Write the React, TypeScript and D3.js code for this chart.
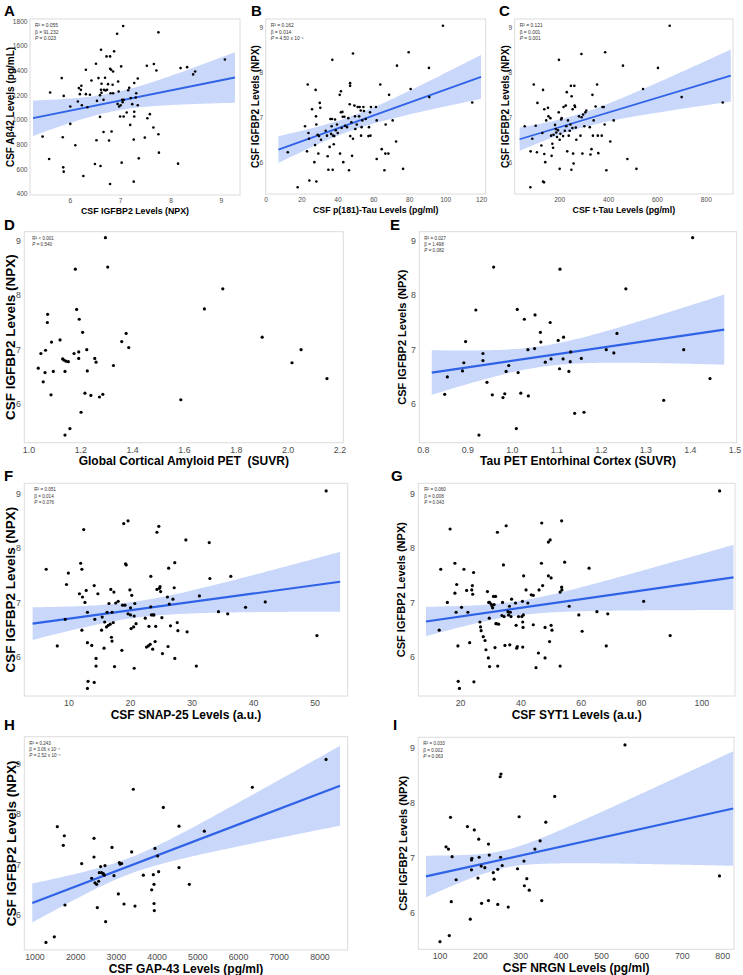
import * as d3 from "d3";

type Pt = [number, number];
// [xStart, yStart, xEnd, yEnd, halfWidthStart, halfWidthMin, halfWidthEnd]
type Fit = [number, number, number, number, number, number, number];

// ---- values ----
const pointsA: Pt[] = [
  [5.45, 866], [5.58, 685], [5.6, 1224], [5.83, 1340], [5.85, 861], [5.86, 617], [5.87, 582], [5.87, 1196],
  [6.0, 1110], [6.0, 969], [6.1, 796], [6.15, 1150], [6.17, 1259], [6.19, 1210], [6.21, 1245], [6.22, 1278],
  [6.23, 1120], [6.26, 547], [6.31, 1210], [6.31, 1408], [6.34, 1104], [6.39, 1205], [6.42, 1321], [6.49, 644],
  [6.51, 1457], [6.52, 836], [6.53, 1156], [6.56, 1340], [6.59, 1202], [6.59, 1026], [6.6, 628], [6.61, 1245],
  [6.61, 1570], [6.62, 1294], [6.62, 1221], [6.66, 904], [6.66, 1164], [6.67, 1245], [6.69, 1343], [6.7, 1240],
  [6.72, 1516], [6.73, 1245], [6.75, 1291], [6.77, 834], [6.79, 1416], [6.79, 1516], [6.8, 1218], [6.81, 1408],
  [6.82, 907], [6.84, 1286], [6.85, 1394], [6.87, 1557], [6.79, 482], [6.85, 1218], [6.93, 1700], [6.94, 1131],
  [6.95, 1313], [6.96, 1232], [6.97, 1110], [6.99, 1029], [7.0, 1120], [7.01, 1435], [7.02, 655], [7.03, 1164],
  [7.04, 1145], [7.05, 1762], [7.06, 1029], [7.06, 1164], [7.12, 1061], [7.15, 1242], [7.17, 1261], [7.19, 961],
  [7.2, 1178], [7.23, 1129], [7.26, 501], [7.26, 842], [7.27, 1067], [7.27, 1029], [7.27, 1300], [7.3, 1183],
  [7.31, 1218], [7.34, 1337], [7.34, 1120], [7.36, 690], [7.48, 858], [7.52, 1440], [7.53, 1015], [7.58, 1048],
  [7.65, 940], [7.66, 1454], [7.71, 1402], [7.75, 885], [7.75, 1711], [7.76, 736], [8.14, 647], [8.19, 1421],
  [8.32, 1429], [8.44, 1370], [8.48, 1394], [9.07, 1491],
];

const pointsB: Pt[] = [
  [12.1, 6.23], [17.6, 5.45], [21.7, 6.81], [22.8, 6.25], [23.2, 7.74], [23.6, 6.66], [23.9, 6.53], [24.1, 5.6],
  [25.6, 7.19], [26.9, 6.01], [27.3, 6.39], [27.6, 7.62], [27.8, 7.03], [28.0, 6.85], [28.0, 5.58], [28.7, 6.62],
  [29.1, 6.2], [29.5, 6.59], [29.9, 7.33], [30.2, 7.22], [30.6, 6.51], [33.2, 6.71], [33.9, 6.6], [34.3, 6.14],
  [34.7, 5.84], [35.4, 6.35], [35.8, 6.97], [36.2, 6.64], [36.5, 6.81], [36.7, 6.97], [36.9, 8.29], [37.1, 5.84],
  [37.3, 6.6], [37.7, 6.41], [38.0, 6.59], [38.4, 6.96], [38.8, 6.72], [39.5, 6.85], [39.9, 6.66], [41.0, 7.51],
  [41.2, 6.2], [41.7, 7.59], [41.7, 7.12], [42.1, 6.77], [42.5, 7.13], [42.7, 7.02], [43.0, 6.01], [43.6, 7.02],
  [44.0, 6.82], [45.1, 6.79], [45.8, 6.99], [46.2, 5.83], [46.6, 7.3], [46.8, 7.71], [46.8, 7.77], [46.9, 6.59],
  [47.5, 6.9], [47.9, 6.15], [48.4, 6.53], [48.4, 8.43], [49.2, 7.27], [49.5, 7.03], [49.7, 6.75], [50.5, 6.85],
  [51.0, 7.24], [51.8, 7.03], [52.1, 7.24], [52.7, 7.16], [52.9, 6.6], [53.2, 6.79], [53.6, 6.94], [54.2, 7.24],
  [54.5, 7.15], [55.5, 6.97], [57.0, 6.59], [57.3, 6.79], [57.9, 7.12], [58.1, 6.6], [58.4, 7.24], [61.2, 7.24],
  [61.6, 6.94], [61.6, 6.08], [63.6, 7.74], [64.4, 6.3], [65.9, 5.83], [66.4, 6.2], [66.6, 6.85], [68.1, 6.2],
  [68.5, 7.51], [70.5, 6.94], [72.4, 6.47], [72.9, 8.16], [76.3, 5.86], [79.4, 8.46], [80.5, 7.64], [90.7, 8.11],
  [90.9, 7.46], [98.5, 9.05], [114.8, 7.34],
];

const pointsC: Pt[] = [
  [57, 6.81], [80, 5.45], [81, 6.25], [88, 6.53], [94, 7.74], [102, 6.82], [107, 6.23], [109, 7.33],
  [125, 6.38], [129, 6.66], [132, 7.62], [132, 5.58], [136, 5.56], [137, 6.19], [137, 7.19], [141, 6.01],
  [145, 6.94], [152, 7.22], [154, 7.03], [162, 6.99], [165, 6.6], [167, 6.15], [170, 6.42], [173, 6.33],
  [175, 6.62], [181, 6.84], [184, 6.75], [186, 6.67], [189, 6.57], [193, 6.72], [196, 7.12], [197, 8.29],
  [200, 5.86], [200, 6.51], [203, 6.64], [206, 6.96], [208, 6.99], [214, 6.59], [216, 7.24], [221, 6.71],
  [225, 7.27], [227, 6.81], [229, 7.57], [231, 6.25], [234, 6.94], [237, 6.6], [241, 6.71], [244, 6.85],
  [246, 7.71], [248, 5.84], [249, 7.48], [252, 6.77], [253, 7.19], [255, 6.2], [257, 5.98], [260, 7.71],
  [261, 7.27], [263, 7.24], [266, 6.78], [268, 6.51], [279, 7.03], [285, 6.6], [289, 8.42], [290, 7.01],
  [293, 6.2], [296, 7.07], [301, 6.81], [305, 7.12], [309, 7.16], [323, 6.79], [326, 6.18], [330, 6.3],
  [334, 7.51], [336, 6.6], [339, 6.94], [347, 7.25], [353, 7.74], [356, 6.6], [358, 6.21], [372, 6.6],
  [375, 7.24], [380, 7.24], [384, 6.85], [386, 8.46], [391, 5.83], [407, 6.47], [421, 6.94], [459, 8.16],
  [477, 6.08], [514, 5.86], [541, 7.64], [602, 8.11], [650, 9.05], [699, 7.46], [867, 7.34],
];

const pointsD: Pt[] = [
  [1.036, 6.66], [1.046, 6.93], [1.055, 6.41], [1.062, 6.58], [1.064, 6.99], [1.071, 7.5], [1.072, 7.65],
  [1.085, 6.17], [1.087, 7.14], [1.094, 6.6], [1.12, 7.18], [1.13, 6.83], [1.135, 6.81], [1.143, 6.79],
  [1.152, 6.78], [1.139, 6.6], [1.139, 5.43], [1.158, 5.55], [1.174, 6.93], [1.179, 8.48], [1.184, 7.74],
  [1.192, 6.96], [1.192, 6.84], [1.194, 7.56], [1.201, 5.85], [1.207, 7.32], [1.216, 6.2], [1.223, 7.0],
  [1.225, 6.61], [1.239, 6.16], [1.254, 6.84], [1.259, 6.77], [1.272, 6.13], [1.285, 6.18], [1.295, 9.06],
  [1.304, 8.52], [1.326, 6.71], [1.358, 7.15], [1.375, 7.3], [1.385, 7.04], [1.586, 6.08], [1.677, 7.75],
  [1.748, 8.12], [1.9, 7.23], [2.015, 6.76], [2.05, 7.0], [2.15, 6.47],
];

const pointsE: Pt[] = [
  [0.848, 6.18], [0.854, 6.5], [0.888, 6.61], [0.891, 6.76], [0.895, 7.15], [0.918, 7.73], [0.925, 5.43],
  [0.934, 6.8], [0.934, 6.93], [0.943, 6.4], [0.955, 6.17], [0.958, 8.52], [0.979, 6.12], [0.983, 6.19],
  [0.986, 6.6], [0.992, 6.71], [1.009, 5.55], [1.011, 7.74], [1.013, 6.58], [1.019, 6.2], [1.027, 7.56],
  [1.035, 7.0], [1.036, 6.15], [1.05, 7.02], [1.051, 7.64], [1.063, 7.32], [1.064, 7.14], [1.074, 6.77],
  [1.085, 7.5], [1.087, 6.83], [1.103, 7.17], [1.106, 6.65], [1.107, 8.48], [1.115, 7.23], [1.114, 6.83],
  [1.127, 6.6], [1.13, 6.78], [1.131, 6.96], [1.14, 5.83], [1.155, 6.84], [1.161, 5.85], [1.211, 7.0],
  [1.228, 6.94], [1.235, 7.3], [1.255, 8.12], [1.34, 6.07], [1.385, 7.0], [1.405, 9.06], [1.444, 6.47],
];

const pointsF: Pt[] = [
  [6.3, 7.61], [8.1, 6.2], [9.6, 7.33], [9.9, 7.54], [9.4, 6.69], [11.7, 7.16], [11.9, 7.72], [12.1, 7.61],
  [12.2, 7.1], [12.1, 6.49], [12.4, 8.34], [12.6, 7.0], [12.8, 7.22], [13.0, 6.82], [13.0, 6.26], [13.1, 5.55],
  [13.0, 5.42], [13.7, 6.21], [14.1, 7.31], [14.1, 5.53], [14.2, 6.69], [14.4, 5.97], [14.4, 5.83], [14.7, 7.16],
  [15.3, 6.49], [15.4, 6.73], [15.7, 6.16], [15.8, 6.64], [16.1, 6.55], [16.2, 6.82], [16.4, 6.58], [16.5, 6.98],
  [16.7, 6.6], [16.8, 7.24], [16.9, 6.36], [17.0, 6.29], [17.0, 6.82], [17.2, 6.63], [17.3, 7.19], [17.4, 5.82],
  [17.6, 6.99], [18.0, 7.02], [18.6, 6.12], [18.7, 6.95], [18.9, 8.45], [19.1, 6.95], [19.2, 7.71], [19.3, 7.69],
  [19.6, 8.5], [19.6, 6.79], [19.9, 7.23], [20.0, 6.9], [20.0, 6.77], [20.1, 6.52], [20.2, 7.13], [20.5, 6.55],
  [20.6, 6.75], [20.6, 5.79], [20.7, 6.98], [20.9, 6.61], [22.4, 6.71], [22.6, 6.18], [22.9, 6.2], [23.0, 6.56],
  [23.2, 6.23], [23.3, 7.48], [23.3, 6.92], [23.4, 6.77], [23.6, 6.14], [23.7, 6.77], [23.8, 6.77], [24.0, 6.28],
  [24.1, 6.56], [24.3, 8.29], [24.3, 7.24], [24.6, 8.4], [24.7, 7.26], [24.8, 7.29], [24.9, 7.2], [25.1, 6.72],
  [25.2, 6.06], [26.0, 7.1], [26.1, 6.19], [26.2, 7.63], [26.3, 6.97], [26.5, 6.57], [26.9, 7.06], [27.1, 7.27],
  [27.2, 7.73], [27.2, 5.97], [27.6, 6.63], [27.7, 6.48], [29.0, 8.15], [29.2, 6.46], [30.7, 5.83], [31.2, 7.12],
  [32.8, 8.1], [32.9, 7.44], [34.3, 6.83], [35.8, 6.79], [36.3, 7.48], [38.7, 6.91], [41.9, 7.01], [50.3, 6.39],
  [51.8, 9.05],
];

const pointsG: Pt[] = [
  [12.9, 6.49], [13.4, 7.61], [15.6, 7.0], [16.5, 8.35], [18.1, 7.17], [18.5, 6.82], [18.1, 7.72], [18.7, 7.33],
  [19.1, 6.2], [19.2, 5.55], [19.6, 5.42], [20.3, 6.91], [21.1, 7.61], [22.0, 7.22], [22.4, 6.82], [23.0, 6.26],
  [23.7, 7.23], [23.9, 7.31], [24.0, 7.15], [24.3, 7.55], [24.4, 5.54], [26.4, 6.64], [26.6, 6.55], [26.8, 6.48],
  [27.5, 6.37], [28.1, 6.3], [28.4, 6.13], [28.9, 7.2], [29.2, 5.98], [29.3, 7.0], [29.5, 6.71], [29.6, 5.82],
  [29.6, 7.0], [30.1, 6.97], [30.4, 6.94], [30.6, 6.9], [30.9, 7.11], [31.1, 6.96], [31.4, 6.17], [31.6, 7.11],
  [31.7, 6.61], [31.9, 6.61], [32.2, 8.29], [32.3, 5.83], [32.6, 6.6], [33.7, 6.76], [33.9, 7.0], [34.2, 7.69],
  [34.4, 6.74], [34.7, 6.21], [35.1, 8.41], [35.7, 6.83], [35.9, 6.77], [36.2, 6.93], [36.3, 6.22], [36.5, 6.82],
  [36.7, 6.74], [36.9, 7.06], [38.2, 6.99], [38.4, 6.58], [38.6, 6.16], [38.8, 6.19], [39.2, 6.74], [40.3, 6.74],
  [40.5, 7.02], [40.6, 6.64], [40.7, 6.54], [40.8, 6.77], [40.6, 6.18], [40.9, 7.49], [41.7, 7.23], [42.3, 6.99],
  [43.4, 7.14], [44.1, 7.13], [44.1, 6.59], [45.0, 5.8], [45.8, 6.07], [46.0, 7.23], [46.8, 7.72], [46.9, 8.46],
  [47.2, 7.31], [48.0, 6.54], [48.0, 5.98], [49.1, 7.49], [49.1, 8.11], [49.5, 6.28], [49.7, 8.15], [50.0, 7.45],
  [50.0, 6.58], [50.3, 6.49], [53.0, 7.19], [53.0, 5.83], [53.5, 8.5], [53.5, 7.28], [53.6, 7.23], [54.5, 7.74],
  [56.0, 6.93], [59.2, 6.77], [60.3, 6.47], [62.6, 7.63], [65.2, 6.83], [68.3, 6.2], [68.8, 6.79], [80.7, 7.02],
  [89.5, 6.39], [105.9, 9.05],
];

const pointsH: Pt[] = [
  [1270, 5.46], [1475, 5.57], [1549, 7.75], [1696, 7.38], [1721, 7.57], [1737, 6.2], [2147, 7.02], [2392, 6.73],
  [2450, 7.52], [2450, 7.15], [2474, 6.64], [2515, 6.61], [2532, 6.15], [2564, 6.67], [2580, 6.84], [2613, 6.96],
  [2638, 6.84], [2679, 6.82], [2720, 6.98], [2736, 5.87], [2703, 6.79], [2892, 7.34], [2941, 6.78], [3048, 6.42],
  [3072, 7.04], [3089, 7.01], [3129, 7.02], [3187, 6.22], [3375, 7.25], [3416, 8.49], [3457, 6.18], [3662, 6.79],
  [3867, 6.5], [3907, 6.8], [3924, 6.61], [3924, 6.23], [3932, 6.09], [3948, 7.32], [4014, 7.17], [4038, 6.86],
  [4153, 8.13], [4538, 7.76], [4538, 6.94], [4792, 6.61], [5161, 7.66], [6340, 8.53], [8150, 9.08],
];

const pointsI: Pt[] = [
  [100, 5.47], [115, 7.2], [121, 7.16], [123, 5.58], [126, 7.74], [128, 6.2], [130, 7.02], [140, 6.6],
  [168, 7.57], [175, 5.88], [178, 6.96], [178, 6.78], [179, 6.99], [185, 7.51], [194, 6.63], [196, 7.34],
  [197, 7.01], [202, 6.85], [203, 6.17], [211, 6.82], [220, 7.25], [220, 6.22], [222, 7.05], [232, 6.73],
  [234, 6.61], [243, 6.79], [243, 6.15], [249, 8.48], [250, 7.01], [251, 8.53], [254, 6.86], [269, 6.1],
  [292, 6.8], [296, 7.75], [308, 6.94], [309, 6.49], [315, 6.62], [321, 6.41], [335, 7.16], [348, 7.31],
  [352, 6.22], [362, 7.65], [384, 8.12], [558, 9.06], [792, 6.67],
];

// regression lines with their confidence bands
const fitA: Fit = [5.26, 1015, 9.27, 1345, 143, 75, 205];
const fitB: Fit = [6.9, 6.29, 119.7, 7.91, 0.3, 0.16, 0.49];
const fitC: Fit = [36, 6.52, 900, 7.94, 0.26, 0.16, 0.58];
const fitE: Fit = [0.819, 6.58, 1.476, 7.37, 0.41, 0.19, 0.645];
const fitF: Fit = [4.09, 6.61, 54.07, 7.38, 0.3, 0.15, 0.55];
const fitG: Fit = [8.5, 6.65, 110.5, 7.46, 0.27, 0.13, 0.6];
const fitH: Fit = [934, 6.24, 8494, 8.56, 0.385, 0.16, 0.79];
const fitI: Fit = [65.3, 6.66, 826, 7.9, 0.38, 0.16, 1.045];

// statistics printed in each panel
const statsA = [["R²", " = 0.055"], ["β", " = 91.232"], ["P", " = 0.023"]];
const statsB = [["R²", " = 0.162"], ["β", " = 0.014"], ["P", " = 4.50 x 10⁻⁵"]];
const statsC = [["R²", " = 0.121"], ["β", " = 0.001"], ["P", " = 0.001"]];
const statsD = [["R²", " < 0.001"], ["P", " = 0.540"]];
const statsE = [["R²", " = 0.027"], ["β", " = 1.498"], ["P", " = 0.082"]];
const statsF = [["R²", " = 0.051"], ["β", " = 0.014"], ["P", " = 0.076"]];
const statsG = [["R²", " = 0.060"], ["β", " = 0.008"], ["P", " = 0.043"]];
const statsH = [["R²", " = 0.243"], ["β", " = 3.06 x 10⁻⁴"], ["P", " = 2.52 x 10⁻⁴"]];
const statsI = [["R²", " = 0.033"], ["β", " = 0.002"], ["P", " = 0.063"]];

// tick values
const ticksIgf = [6, 7, 8, 9];
const ticksAb42 = [400, 600, 800, 1000, 1200, 1400, 1600, 1800];
const ticksPtau = [0, 20, 40, 60, 80, 100, 120];
const ticksTtau = [200, 400, 600, 800];
const ticksAmyPet = [1.0, 1.2, 1.4, 1.6, 1.8, 2.0, 2.2];
const ticksTauPet = [0.8, 0.9, 1.0, 1.1, 1.2, 1.3, 1.4, 1.5];
const ticksSnap = [10, 20, 30, 40, 50];
const ticksSyt = [20, 40, 60, 80, 100];
const ticksGap = [1000, 2000, 3000, 4000, 5000, 6000, 7000, 8000];
const ticksNrgn = [100, 200, 300, 400, 500, 600, 700, 800];

const yTitleIgf = "CSF IGFBP2 Levels (NPX)";

// ---- layout ----
interface PanelCfg {
  letter: string;
  letterPos: [number, number];
  box: [number, number, number, number];
  xDomain: [number, number];
  yDomain: [number, number];
  xTicks: number[];
  yTicks: number[];
  xFmt?: (v: number) => string;
  xTitle: string;
  yTitle: string;
  yTitleX: number;
  yTitleSize: number;
  points: Pt[];
  fit?: Fit;
  stats: string[][];
  annotDx: number;
  small: boolean;
}

const f1 = d3.format(".1f");

const panels: PanelCfg[] = [
  {
    letter: "A", letterPos: [4, 16], box: [30, 19, 240, 195], xDomain: [5.2, 9.37], yDomain: [393, 1819],
    xTicks: [6, 7, 8, 9], yTicks: ticksAb42, xTitle: "CSF IGFBP2 Levels (NPX)", yTitle: "CSF Aβ42 Levels (pg/mL)",
    yTitleX: 10, yTitleSize: 10, points: pointsA, fit: fitA, stats: statsA, annotDx: 5, small: true,
  },
  {
    letter: "B", letterPos: [251, 16], box: [265.7, 19, 485.7, 194], xDomain: [-0.2, 122.3], yDomain: [5.3, 9.2],
    xTicks: ticksPtau, yTicks: ticksIgf, xTitle: "CSF p(181)-Tau Levels (pg/ml)", yTitle: yTitleIgf,
    yTitleX: 255, yTitleSize: 10, points: pointsB, fit: fitB, stats: statsB, annotDx: 5, small: true,
  },
  {
    letter: "C", letterPos: [499, 16], box: [514.7, 19, 733, 194], xDomain: [16, 909], yDomain: [5.3, 9.2],
    xTicks: ticksTtau, yTicks: ticksIgf, xTitle: "CSF t-Tau Levels (pg/ml)", yTitle: yTitleIgf,
    yTitleX: 505, yTitleSize: 10, points: pointsC, stats: statsC, fit: fitC, annotDx: 5, small: true,
  },
  {
    letter: "D", letterPos: [4, 230], box: [24.3, 231.7, 343.3, 442.7], xDomain: [0.982, 2.213], yDomain: [5.29, 9.17],
    xTicks: ticksAmyPet, yTicks: ticksIgf, xFmt: f1, xTitle: "Global Cortical Amyloid PET  (SUVR)", yTitle: yTitleIgf,
    yTitleX: 10, yTitleSize: 13.5, points: pointsD, stats: statsD, annotDx: 8, small: false,
  },
  {
    letter: "E", letterPos: [390, 230], box: [419.3, 231.7, 736.7, 442.7], xDomain: [0.791, 1.504], yDomain: [5.29, 9.17],
    xTicks: ticksTauPet, yTicks: ticksIgf, xFmt: f1, xTitle: "Tau PET Entorhinal Cortex (SUVR)", yTitle: yTitleIgf,
    yTitleX: 402.5, yTitleSize: 11, points: pointsE, fit: fitE, stats: statsE, annotDx: 5, small: false,
  },
  {
    letter: "F", letterPos: [4, 481], box: [24.3, 483.3, 347.7, 696], xDomain: [2.74, 55.3], yDomain: [5.28, 9.19],
    xTicks: ticksSnap, yTicks: ticksIgf, xTitle: "CSF SNAP-25 Levels (a.u.)", yTitle: yTitleIgf,
    yTitleX: 10, yTitleSize: 13.5, points: pointsF, fit: fitF, stats: statsF, annotDx: 10, small: false,
  },
  {
    letter: "G", letterPos: [391, 481], box: [418.3, 483.3, 735, 696], xDomain: [5.96, 111], yDomain: [5.28, 9.19],
    xTicks: ticksSyt, yTicks: ticksIgf, xTitle: "CSF SYT1 Levels (a.u.)", yTitle: yTitleIgf,
    yTitleX: 401.5, yTitleSize: 11, points: pointsG, fit: fitG, stats: statsG, annotDx: 6, small: false,
  },
  {
    letter: "H", letterPos: [4, 730], box: [24.3, 736.7, 347.7, 950], xDomain: [738, 8682], yDomain: [5.31, 9.53],
    xTicks: ticksGap, yTicks: ticksIgf, xTitle: "CSF GAP-43 Levels (pg/ml)", yTitle: yTitleIgf,
    yTitleX: 11, yTitleSize: 13.5, points: pointsH, fit: fitH, stats: statsH, annotDx: 5, small: false,
  },
  {
    letter: "I", letterPos: [393, 730], box: [418.3, 737.3, 734, 949.3], xDomain: [46.3, 828], yDomain: [5.33, 9.2],
    xTicks: ticksNrgn, yTicks: ticksIgf, xTitle: "CSF NRGN Levels (pg/ml)", yTitle: yTitleIgf,
    yTitleX: 403, yTitleSize: 11, points: pointsI, fit: fitI, stats: statsI, annotDx: 5, small: false,
  },
];

const FONT = "'Liberation Sans', Arial, Helvetica, sans-serif";
const LINE = "#2f62e6";
const BAND = "#c9d8fa";

// half-width of the confidence band, hyperbolic around its narrowest point
const bandHalfWidth = (fit: Fit) => {
  const [xL, , xR, , hL, hC, hR] = fit;
  const rho = Math.sqrt((hR * hR - hC * hC) / (hL * hL - hC * hC));
  const xc = (xR + rho * xL) / (1 + rho);
  const k = (hL * hL - hC * hC) / ((xc - xL) * (xc - xL));
  return (v: number) => Math.sqrt(hC * hC + k * (v - xc) * (v - xc));
};

const Panel = ({ p }: { p: PanelCfg }) => {
  const [bx0, by0, bx1, by1] = p.box;
  const x = d3.scaleLinear().domain(p.xDomain).range([bx0, bx1]);
  const y = d3.scaleLinear().domain(p.yDomain).range([by1, by0]);

  const tickSize = p.small ? 6.6 : 8.8;
  const xTitleSize = p.small ? 8.8 : 12;
  const r = p.small ? 1.3 : 1.6;
  const annotSize = p.small ? 4.9 : 4.6;
  const annotGap = p.small ? 6.5 : 6.2;
  const fmt = p.xFmt ?? ((v: number) => String(v));

  let bandPath: string | null = null;
  let linePath: string | null = null;
  if (p.fit) {
    const [xL, yL, xR, yR] = p.fit;
    const slope = (yR - yL) / (xR - xL);
    const fitY = (v: number) => yL + slope * (v - xL);
    const h = bandHalfWidth(p.fit);
    const xs = d3.range(101).map((i) => xL + ((xR - xL) * i) / 100);
    bandPath = d3
      .area<number>()
      .x((v) => x(v))
      .y0((v) => y(fitY(v) - h(v)))
      .y1((v) => y(fitY(v) + h(v)))(xs);
    linePath = d3
      .line<number>()
      .x((v) => x(v))
      .y((v) => y(fitY(v)))([xL, xR]);
  }

  const midY = (by0 + by1) / 2;

  return (
    <g fontFamily={FONT}>
      <text x={p.letterPos[0]} y={p.letterPos[1]} fontSize={15} fontWeight="bold" fill="#000">
        {p.letter}
      </text>
      <rect x={bx0} y={by0} width={bx1 - bx0} height={by1 - by0} fill="#fff" stroke="#dcdcdc" strokeWidth={1} />
      {bandPath && <path d={bandPath} fill={BAND} />}
      {linePath && <path d={linePath} fill="none" stroke={LINE} strokeWidth={p.small ? 1.8 : 2.2} />}
      {p.points.map((d, i) => (
        <circle key={i} cx={x(d[0])} cy={y(d[1])} r={r} fill="#000" />
      ))}
      {p.stats.map((s, i) => (
        <text
          key={i}
          x={bx0 + p.annotDx}
          y={by0 + 8 + i * annotGap}
          fontSize={annotSize}
          fill="#333"
        >
          <tspan fontStyle={s[0] === "P" ? "italic" : "normal"}>{s[0]}</tspan>
          {s[1]}
        </text>
      ))}
      {p.xTicks.map((t) => (
        <text
          key={`x${t}`}
          x={x(t)}
          y={by1 + (p.small ? 7.5 : 10)}
          fontSize={tickSize}
          fill="#4d4d4d"
          textAnchor="middle"
        >
          {fmt(t)}
        </text>
      ))}
      {p.yTicks.map((t) => (
        <text
          key={`y${t}`}
          x={bx0 - (p.small ? 2.5 : 3.5)}
          y={y(t) + tickSize * 0.35}
          fontSize={tickSize}
          fill="#4d4d4d"
          textAnchor="end"
        >
          {t}
        </text>
      ))}
      <text
        x={(bx0 + bx1) / 2}
        y={by1 + (p.small ? 18.5 : 22.5)}
        fontSize={xTitleSize}
        fontWeight="bold"
        textAnchor="middle"
        style={{ whiteSpace: "pre" }}
      >
        {p.xTitle}
      </text>
      <text
        transform={`translate(${p.yTitleX + p.yTitleSize * 0.35},${midY}) rotate(-90)`}
        fontSize={p.yTitleSize}
        fontWeight="bold"
        textAnchor="middle"
      >
        {p.yTitle}
      </text>
    </g>
  );
};

const App = () => {
  return (
    <div>
      <style>{`body{margin:0;background:#fff}`}</style>
      <svg width={743} height={975} viewBox="0 0 743 975" style={{ display: "block" }}>
        <rect width={743} height={975} fill="#fff" />
        {panels.map((p) => (
          <Panel key={p.letter} p={p} />
        ))}
      </svg>
    </div>
  );
};

export default App;
